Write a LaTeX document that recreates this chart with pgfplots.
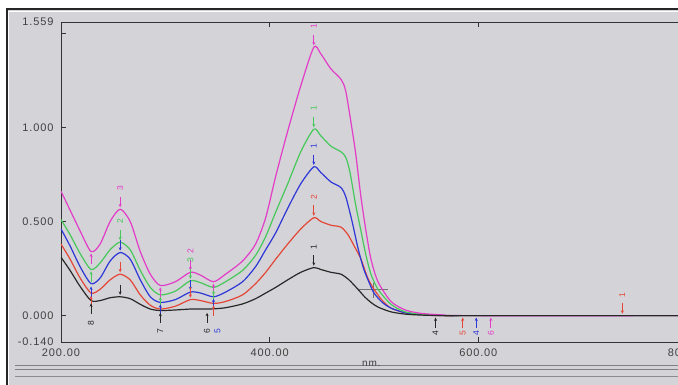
\documentclass[border=0pt]{standalone}
\usepackage{pgfplots}
\pgfplotsset{compat=1.18}
\usepackage{fontspec}
\setmainfont{Liberation Sans}
\newfontfamily\tickfont[LetterSpace=8]{Liberation Sans}
\usetikzlibrary{arrows.meta}
\definecolor{cmag}{RGB}{226,60,200}
\definecolor{cgrn}{RGB}{70,200,90}
\definecolor{cblu}{RGB}{45,55,215}
\definecolor{cred}{RGB}{228,70,55}
\definecolor{cblk}{RGB}{40,40,40}
\definecolor{screen}{RGB}{212,211,215}
\newcommand{\tf}{\tickfont\fontsize{11}{12}\selectfont}
\newcommand{\lf}{\fontsize{8.5}{8.5}\selectfont}
\pgfplotsset{
  arr/.style={quiver={u=0,v=\thisrow{v}}, -{Stealth[length=3.4pt,width=3pt]}, line width=0.9pt},
  lab/.style={only marks, mark=*, mark size=0pt, mark options={draw=none,fill=none},
    nodes near coords, point meta=explicit symbolic, nodes near coords align={center},
    every node near coord/.append style={rotate=90, font=\lf, text=#1, inner sep=0pt}},
}
\begin{document}
\begin{tikzpicture}[x=1pt,y=1pt]
\fill[white] (0,0) rectangle (678,385);
\fill[screen] (7,0) rectangle (678,375);
\draw[white, line width=1pt] (8.5,0) -- (8.5,373.5) -- (678,373.5);
\draw[black!85, line width=2pt] (6.5,0) -- (6.5,375.5) -- (678,375.5);
\draw[black!50, line width=1pt] (15,19) -- (678,19);
\draw[black!50, line width=1pt] (15,15) -- (678,15);
\draw[black!45, line width=1pt] (15,8) -- (678,8);
\node[anchor=west, inner sep=0pt, text=black!75] at (362,21.5) {\tickfont\fontsize{10}{10}\selectfont nm.};
\begin{axis}[
  at={(61pt,43pt)}, anchor=south west,
  scale only axis, width=626pt, height=320pt,
  xmin=200, xmax=800, ymin=-0.14, ymax=1.559,
  axis line style={draw=black!80, line width=0.9pt},
  tick align=inside, major tick length=5pt,
  tick style={black!80, line width=0.9pt},
  xtick={200,400,600,800}, xticklabels={200.00,400.00,600.00,800.00},
  ytick={-0.14,0,0.5,1,1.5,1.559}, yticklabels={-0.140,0.000,0.500,1.000,,1.559},
  ticklabel style={font=\tf, text=black!75},
  yticklabel style={xshift=-4pt},
  xticklabel style={yshift=-3pt},
  every axis plot/.append style={line width=1.2pt},
]
% crosshair cursor
\addplot[black!55, line width=0.7pt] coordinates {(485,0.14)(513,0.14)};
\addplot[black!55, line width=0.7pt] coordinates {(499,0.175)(499,0.096)};
% curves
\addplot[cred, smooth, tension=0.45] coordinates {(200,0.38)(208.7,0.30)(218.3,0.20)(228.8,0.12)(237.5,0.14)(247.1,0.19)(256.7,0.22)(266.3,0.19)(276,0.11)(285.6,0.055)(295.2,0.035)(309.6,0.05)(324,0.085)(333.7,0.08)(346.2,0.065)(357.7,0.075)(374,0.11)(386.5,0.17)(396.2,0.23)(405.8,0.30)(417.3,0.38)(429.8,0.46)(442.3,0.52)(449,0.50)(458.7,0.48)(468.3,0.47)(475,0.43)(481,0.37)(487.5,0.30)(494,0.20)(500,0.14)(508,0.08)(516.3,0.04)(530,0.015)(545,0.005)(565,0)(600,0)(800,0)};
\addplot[cblu, smooth, tension=0.45] coordinates {(200,0.46)(208.7,0.37)(218.3,0.26)(228.8,0.17)(237.5,0.20)(247.1,0.29)(256.7,0.335)(266.3,0.30)(276,0.19)(285.6,0.10)(295.2,0.07)(309.6,0.085)(324,0.125)(333.7,0.12)(346.2,0.10)(357.7,0.125)(374,0.18)(386.5,0.26)(396.2,0.35)(405.8,0.44)(417.3,0.57)(429.8,0.70)(442.3,0.79)(449,0.76)(458.7,0.71)(468.3,0.68)(473,0.63)(479,0.50)(484.6,0.36)(490,0.25)(495,0.18)(500,0.12)(508,0.07)(516.3,0.04)(530,0.015)(550,0.004)(570,0)(600,0)(800,0)};
\addplot[cgrn, smooth, tension=0.45] coordinates {(200,0.51)(208.7,0.43)(218.3,0.33)(228.8,0.245)(237.5,0.28)(247.1,0.35)(256.7,0.39)(266.3,0.35)(276,0.24)(285.6,0.15)(295.2,0.11)(309.6,0.13)(324,0.185)(333.7,0.175)(346.2,0.15)(357.7,0.18)(374,0.24)(386.5,0.32)(396.2,0.42)(405.8,0.55)(417.3,0.70)(429.8,0.87)(442.3,0.99)(449,0.955)(458.7,0.90)(468.3,0.87)(473,0.84)(477,0.76)(482.7,0.58)(487.5,0.45)(492.3,0.32)(497.1,0.22)(503.8,0.14)(516.3,0.06)(530,0.02)(550,0.005)(575,0)(600,0)(800,0)};
\addplot[cmag, smooth, tension=0.45] coordinates {(200,0.66)(208.7,0.56)(218.3,0.45)(228.8,0.34)(237.5,0.38)(247.1,0.50)(256.7,0.565)(266.3,0.50)(276,0.34)(285.6,0.22)(295.2,0.16)(309.6,0.18)(324,0.23)(333.7,0.215)(346.2,0.18)(357.7,0.22)(374,0.29)(386.5,0.38)(396.2,0.52)(405.8,0.74)(417.3,0.98)(429.8,1.22)(442.3,1.425)(449,1.39)(458.7,1.31)(468.3,1.255)(473,1.19)(479.8,0.96)(482.7,0.85)(487.5,0.63)(492.3,0.45)(497.1,0.30)(503.8,0.18)(516.3,0.075)(530,0.03)(545,0.012)(565,0.004)(590,0)(800,0)};
\addplot[cblk, smooth, tension=0.45] coordinates {(200,0.31)(208.7,0.24)(218.3,0.155)(228.8,0.08)(237.5,0.08)(247.1,0.095)(256.7,0.10)(266.3,0.09)(276,0.06)(285.6,0.035)(295.2,0.027)(309.6,0.03)(324,0.035)(333.7,0.035)(346.2,0.036)(357.7,0.042)(374,0.062)(386.5,0.09)(396.2,0.12)(405.8,0.15)(417.3,0.19)(429.8,0.23)(442.3,0.255)(449,0.245)(458.7,0.23)(468.3,0.22)(476,0.19)(484.6,0.14)(491,0.10)(497.1,0.07)(504,0.045)(516.3,0.02)(530,0.008)(545,0.003)(565,0)(600,0)(800,0)};
% peak / valley pick arrows
\addplot[cmag, arr] table[row sep=\\] {x y v\\ 442.3 1.49 -0.055\\ 256.7 0.63 -0.055\\ 324 0.295 -0.055\\ 228.8 0.275 0.055\\ 295.2 0.095 0.055\\ 346.2 0.115 0.055\\ 612 -0.065 0.055\\};
\addplot[cgrn, arr] table[row sep=\\] {x y v\\ 442.3 1.055 -0.055\\ 256.7 0.455 -0.055\\ 324 0.25 -0.055\\ 228.8 0.18 0.055\\ 295.2 0.045 0.055\\ 346.2 0.08 0.055\\};
\addplot[cblu, arr] table[row sep=\\] {x y v\\ 442.3 0.855 -0.055\\ 256.7 0.40 -0.055\\ 324 0.19 -0.055\\ 228.8 0.10 0.055\\ 295.2 0.005 0.055\\ 346.2 0.035 0.055\\ 598 -0.065 0.055\\};
\addplot[cred, arr] table[row sep=\\] {x y v\\ 442.3 0.585 -0.055\\ 256.7 0.285 -0.055\\ 324 0.15 -0.055\\ 228.8 0.05 0.055\\ 346.2 0.0 0.055\\ 585 -0.065 0.055\\ 738 0.065 -0.055\\};
\addplot[cblk, arr] table[row sep=\\] {x y v\\ 442.3 0.32 -0.055\\ 256.7 0.165 -0.055\\ 228.8 0.01 0.055\\ 295.2 -0.04 0.055\\ 340 -0.04 0.055\\ 559 -0.065 0.055\\};
% pick labels
\addplot[lab=cmag] table[row sep=\\, meta=l] {x y l\\ 442.3 1.535 1\\ 256.7 0.675 3\\ 324 0.34 2\\ 612 -0.095 6\\};
\addplot[lab=cgrn] table[row sep=\\, meta=l] {x y l\\ 442.3 1.10 1\\ 256.7 0.50 2\\ 324 0.295 3\\};
\addplot[lab=cblu] table[row sep=\\, meta=l] {x y l\\ 442.3 0.90 1\\ 598 -0.095 4\\ 350 -0.08 5\\};
\addplot[lab=cred] table[row sep=\\, meta=l] {x y l\\ 442.3 0.63 2\\ 738 0.11 1\\ 585 -0.095 5\\};
\addplot[lab=cblk] table[row sep=\\, meta=l] {x y l\\ 442.3 0.365 1\\ 228.8 -0.04 8\\ 295.2 -0.08 7\\ 340 -0.08 6\\ 559 -0.095 4\\};
\end{axis}
\pgfresetboundingbox
\path[use as bounding box] (0,0) rectangle (678,385);
\end{tikzpicture}
\end{document}
